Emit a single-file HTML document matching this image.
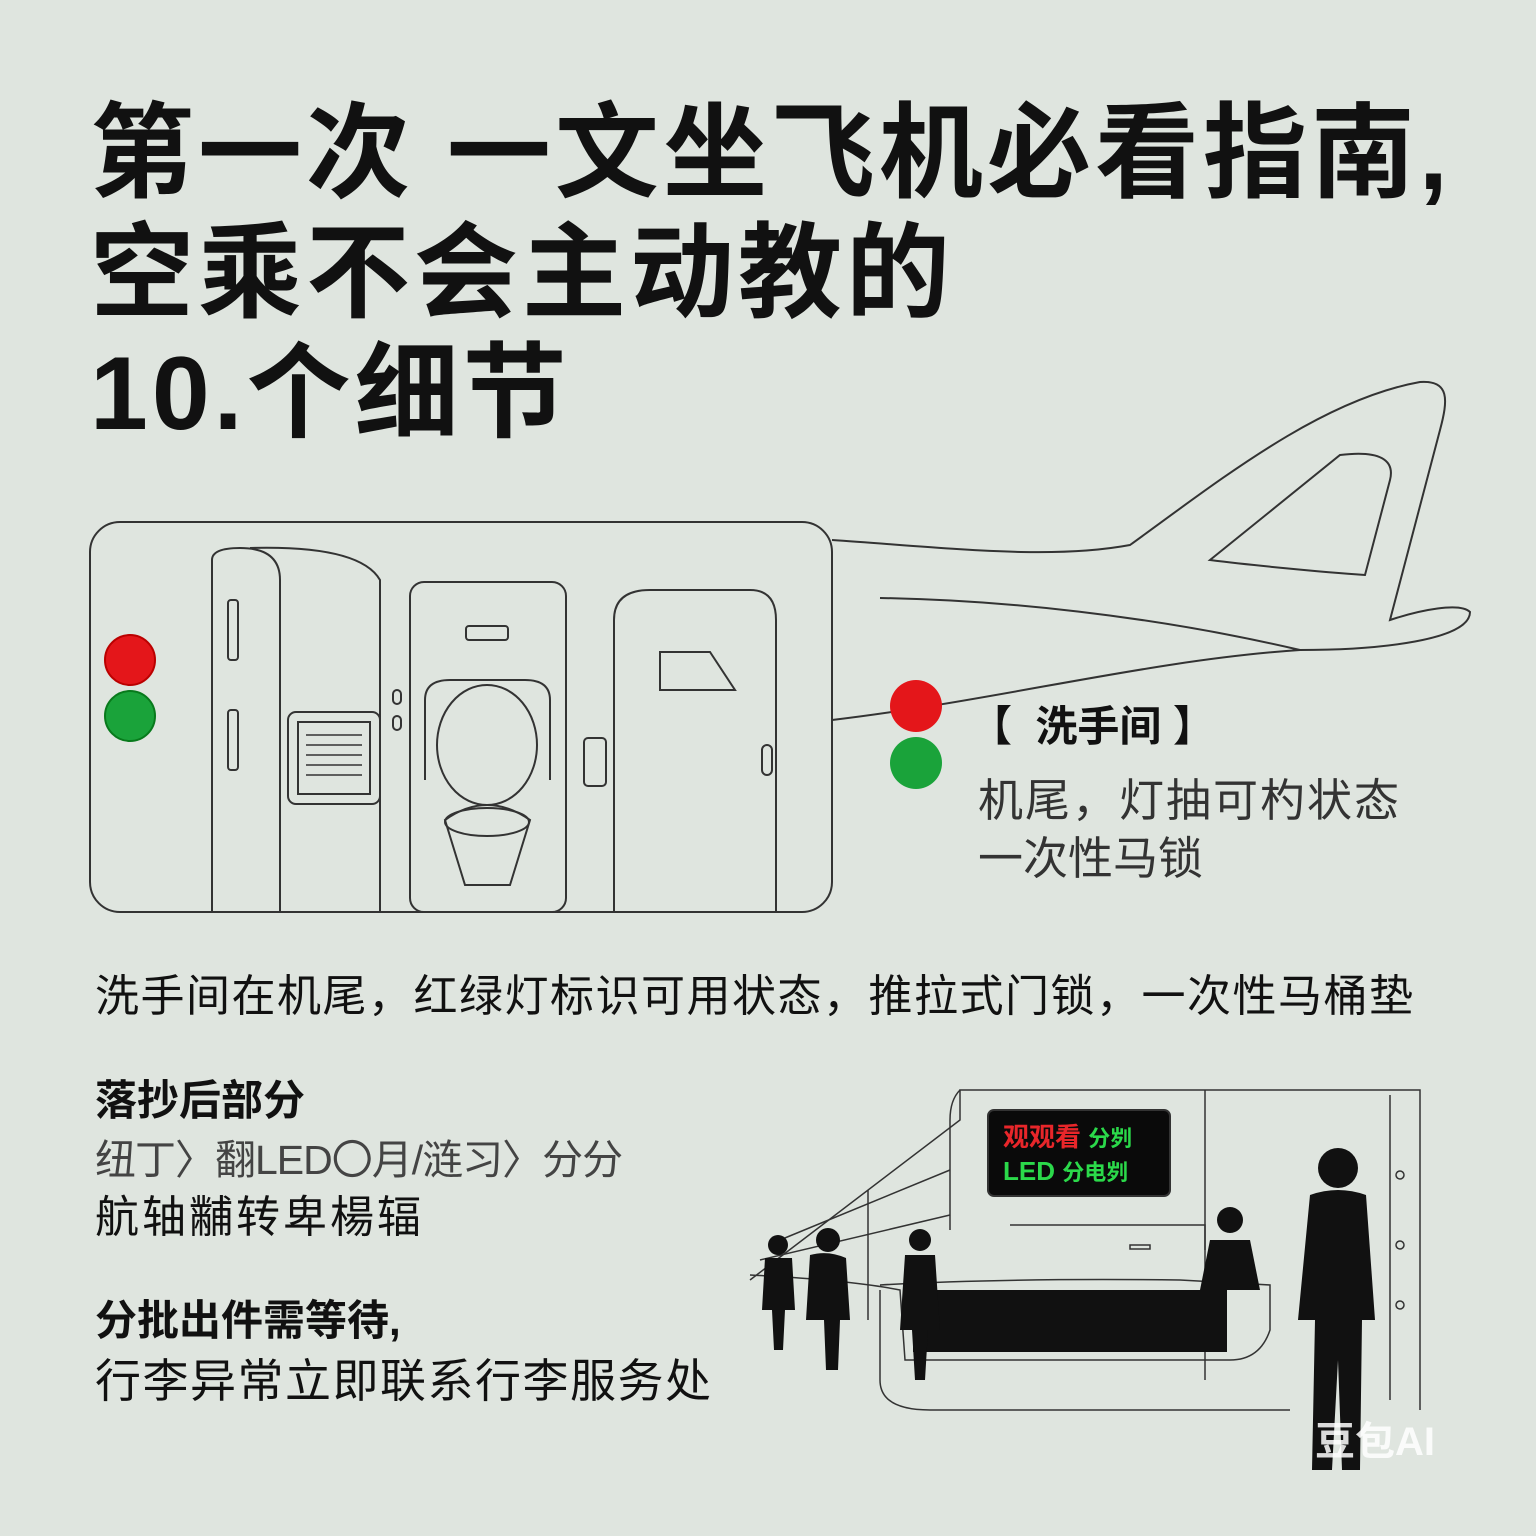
<!DOCTYPE html>
<html><head><meta charset="utf-8"><style>
body{margin:0;width:1536px;height:1536px;background:#dfe5df;position:relative;overflow:hidden;font-family:"Liberation Sans","Noto Sans CJK SC",sans-serif;color:#111}
.t{position:absolute;white-space:nowrap;line-height:1}
.h{font-size:104px;font-weight:bold;left:90px;letter-spacing:4px}
</style></head><body>
<svg width="1536" height="1536" style="position:absolute;left:0;top:0" fill="none" stroke="#333" stroke-width="2">
<rect x="90" y="522" width="742" height="390" rx="30"/>
<path d="M832 540 C950 548 1050 560 1130 545 C1220 480 1320 400 1420 382 C1450 380 1448 400 1440 430 L1390 620 C1420 610 1460 602 1470 612 C1470 640 1380 650 1300 650 C1150 660 1000 700 832 720"/>
<path d="M1210 560 L1340 455 C1380 450 1395 460 1390 480 L1365 575 C1320 572 1250 565 1210 560Z"/>
<path d="M880 598 C1000 600 1150 615 1300 650"/>
<path d="M212 912 V560 Q212 548 240 548 Q280 548 280 580 V912"/>
<path d="M250 548 Q360 545 380 580 V912"/>
<rect x="228" y="600" width="10" height="60" rx="3"/><rect x="228" y="710" width="10" height="60" rx="3"/>
<rect x="288" y="712" width="92" height="92" rx="8"/><rect x="298" y="722" width="72" height="72"/>
<g stroke-width="1.5"><line x1="306" y1="735" x2="362" y2="735"/><line x1="306" y1="745" x2="362" y2="745"/><line x1="306" y1="755" x2="362" y2="755"/><line x1="306" y1="765" x2="362" y2="765"/><line x1="306" y1="775" x2="362" y2="775"/></g>
<rect x="393" y="690" width="8" height="14" rx="4"/><rect x="393" y="716" width="8" height="14" rx="4"/>
<rect x="410" y="582" width="156" height="330" rx="14"/>
<rect x="466" y="626" width="42" height="14" rx="3"/>
<path d="M425 780 V700 Q425 680 450 680 H525 Q550 680 550 700 V780"/>
<ellipse cx="487" cy="745" rx="50" ry="60"/>
<path d="M445 820 Q487 790 530 820 L510 885 H465Z"/><ellipse cx="487" cy="822" rx="42" ry="14"/>
<rect x="584" y="738" width="22" height="48" rx="4"/>
<path d="M614 912 V620 Q614 590 650 590 H750 Q776 590 776 620 V912"/>
<path d="M660 652 H710 L735 690 H660Z"/>
<rect x="762" y="745" width="10" height="30" rx="5"/>
<g stroke-width="1.5">
<path d="M750 1280 L960 1120 V1090 H1420 V1410"/>
<path d="M960 1090 Q950 1100 950 1120 V1230"/>
<path d="M1205 1090 V1380"/><path d="M1390 1095 V1400"/>
<path d="M780 1240 L950 1170"/><path d="M760 1260 L950 1215"/>
<path d="M868 1190 V1320"/><path d="M1010 1225 H1205 V1250"/>
<rect x="1130" y="1245" width="20" height="4"/>
<path d="M750 1275 Q850 1280 900 1290 L905 1360 H1230 Q1260 1360 1270 1330 V1285 L1180 1280 Q1000 1278 880 1285"/>
<path d="M880 1290 L880 1380 Q880 1410 930 1410 H1290"/>
<circle cx="1400" cy="1175" r="4"/><circle cx="1400" cy="1245" r="4"/><circle cx="1400" cy="1305" r="4"/>
</g>
<rect x="913" y="1290" width="314" height="62" fill="#111" stroke="none"/>
<rect x="988" y="1110" width="182" height="86" rx="6" fill="#0a0a0a"/>
<g fill="#111" stroke="none">
<circle cx="1338" cy="1168" r="20"/><path d="M1310 1195 Q1338 1185 1366 1195 L1375 1320 L1362 1320 L1360 1470 H1342 L1338 1360 L1332 1470 H1312 L1315 1320 L1298 1320Z"/>
<circle cx="1230" cy="1220" r="13"/><path d="M1210 1240 H1250 L1260 1290 H1200Z"/>
<circle cx="920" cy="1240" r="11"/><path d="M905 1255 H935 L940 1330 H928 L925 1380 H915 L912 1330 H900Z"/>
<circle cx="828" cy="1240" r="12"/><path d="M810 1255 Q828 1250 846 1258 L850 1320 H840 L838 1370 H826 L824 1320 H806Z"/>
<circle cx="778" cy="1245" r="10"/><path d="M765 1258 H792 L795 1310 H785 L783 1350 H774 L772 1310 H762Z"/>
</g>
<circle cx="130" cy="660" r="25" fill="#e4161a" stroke="#b00"/>
<circle cx="130" cy="716" r="25" fill="#1aa33a" stroke="#087a1c"/>
<circle cx="916" cy="706" r="26" fill="#e4161a" stroke="none"/>
<circle cx="916" cy="763" r="26" fill="#1aa33a" stroke="none"/>
</svg>
<div class="t h" style="top:102px">第一次 一文坐飞机必看指南,</div>
<div class="t h" style="top:222px">空乘不会主动教的</div>
<div class="t h" style="top:342px">10.个细节</div>
<div class="t" style="left:970px;top:706px;font-size:42px;font-weight:bold">【&nbsp; 洗手间 】</div>
<div class="t" style="left:978px;top:778px;font-size:45px;color:#333;letter-spacing:2px">机尾，灯抽可杓状态</div>
<div class="t" style="left:978px;top:836px;font-size:45px;color:#333">一次性马锁</div>
<div class="t" style="left:95px;top:975px;font-size:44px;letter-spacing:1.5px">洗手间在机尾，红绿灯标识可用状态，推拉式门锁，一次性马桶垫</div>
<div class="t" style="left:95px;top:1080px;font-size:42px;font-weight:bold">落抄后部分</div>
<div class="t" style="left:95px;top:1140px;font-size:41px;color:#444;letter-spacing:-1px">纽丁〉翻LED〇月/涟习〉分分</div>
<div class="t" style="left:95px;top:1196px;font-size:44px;letter-spacing:3px">航轴黼转卑楊辐</div>
<div class="t" style="left:95px;top:1300px;font-size:42px;font-weight:bold">分批出件需等待,</div>
<div class="t" style="left:95px;top:1358px;font-size:46px;letter-spacing:1.5px">行李异常立即联系行李服务处</div>
<div class="t" style="left:1003px;top:1124px;font-size:26px;font-weight:bold;color:#e8262a">观观看 <span style="color:#2bd94a;font-size:22px">分刿</span></div>
<div class="t" style="left:1003px;top:1158px;font-size:26px;font-weight:bold;color:#2bd94a">LED <span style="font-size:22px">分电刿</span></div>
<div class="t" style="left:1315px;top:1422px;font-size:40px;font-weight:bold;color:#fff;opacity:.85">豆包AI</div>
</body></html>
